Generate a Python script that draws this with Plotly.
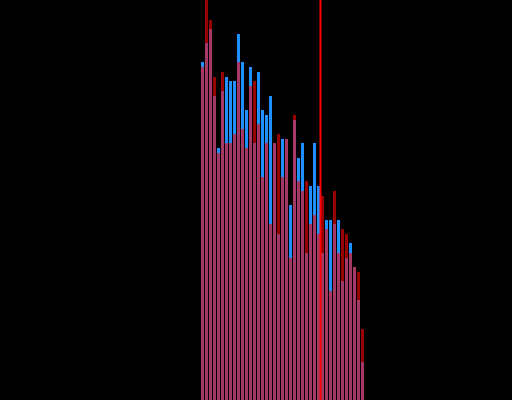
import plotly.graph_objects as go

categories = list(range(41))
blue_values = [338, 357, 371, 304, 252, 309, 323, 319, 319, 366,
               338, 290, 333, 257, 328, 290, 285, 304, 257, 166,
               261, 261, 195, 280, 242, 257, 147, 214, 257, 214,
               147, 180, 180, 176, 180, 119, 142, 157, 133, 100, 38]
red_values = [333, 430, 380, 323, 247, 328, 257, 257, 266, 338,
              271, 252, 314, 319, 276, 223, 257, 176, 257, 266,
              223, 261, 142, 285, 219, 209, 219, 176, 185, 166,
              204, 171, 109, 209, 147, 171, 166, 147, 133, 128, 71]
marker_x = 29.5

fig = go.Figure()
fig.add_trace(go.Bar(x=categories, y=blue_values, marker=dict(color="#1E90FF", line=dict(width=0))))
fig.add_trace(go.Bar(x=categories, y=red_values, marker=dict(color="#FF0000", line=dict(width=0)), opacity=0.6))
fig.add_shape(type="line", x0=marker_x, x1=marker_x, y0=0, y1=1, xref="x", yref="paper",
              line=dict(color="#FF0000", width=2))
fig.update_layout(
    width=512, height=400,
    margin=dict(l=0, r=0, t=0, b=0),
    barmode="overlay", bargap=0.25,
    paper_bgcolor="black", plot_bgcolor="black",
    showlegend=False,
    xaxis=dict(range=[-50.625, 77.375], visible=False),
    yaxis=dict(range=[0, 400], visible=False),
)
post = ("document.body.style.margin='0';document.body.style.padding='0';"
        "document.body.style.background='black';"
        "document.documentElement.style.overflow='hidden';"
        "Plotly.Plots.resize(document.getElementById('{plot_id}'));")
fig.write_html("out.html", post_script=post,
               config={"responsive": False, "displayModeBar": False})
